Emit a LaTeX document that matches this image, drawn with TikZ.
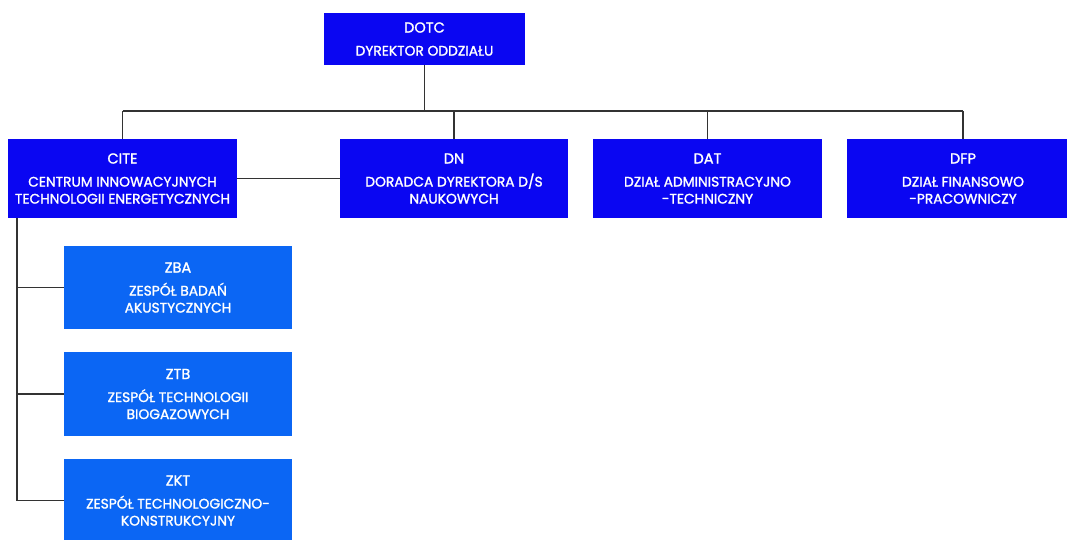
\documentclass[tikz,border=0pt]{standalone}
\usepackage{fontspec}
\setmainfont{Poppins}[UprightFeatures={FakeBold=1.5}]
\begin{document}
\begin{tikzpicture}[x=1pt,y=-1pt,
  unitbox/.style={fill=topblue, text=white, inner sep=0pt, align=center,
    font=\fontsize{13.8}{17}\selectfont},
  subbox/.style={unitbox, fill=subblue},
  link/.style={draw=linegray, line width=1.8pt}]
\definecolor{topblue}{HTML}{0A06F2}
\definecolor{subblue}{HTML}{0B66F4}
\definecolor{linegray}{HTML}{333333}
\useasboundingbox (0,0) rectangle (1067,539);
\clip (0,0) rectangle (1067,539);
\newcommand{\boxtext}[2]{\fontsize{14.5}{17}\selectfont #1\\[6pt]\fontsize{13.8}{17}\selectfont #2}

% director
\node[unitbox, minimum width=201pt, minimum height=52pt] (dotc) at (424.5,39)
  {\boxtext{DOTC}{DYREKTOR ODDZIAŁU}};

% second level
\node[unitbox, minimum width=229pt, minimum height=79pt] (cite) at (122.5,178.5)
  {\boxtext{CITE}{CENTRUM INNOWACYJNYCH\\TECHNOLOGII ENERGETYCZNYCH}};
\node[unitbox, minimum width=228pt, minimum height=79pt] (dn) at (454,178.5)
  {\boxtext{DN}{DORADCA DYREKTORA D/S\\NAUKOWYCH}};
\node[unitbox, minimum width=229pt, minimum height=79pt] (dat) at (707.5,178.5)
  {\boxtext{DAT}{DZIAŁ ADMINISTRACYJNO\\-TECHNICZNY}};
\node[unitbox, minimum width=232pt, minimum height=79pt] (dfp) at (963,178.5)
  {\boxtext{DFP}{DZIAŁ FINANSOWO\\-PRACOWNICZY}};

% teams under CITE
\node[subbox, minimum width=228pt, minimum height=83pt] (zba) at (178,287.5)
  {\boxtext{ZBA}{ZESPÓŁ BADAŃ\\AKUSTYCZNYCH}};
\node[subbox, minimum width=228pt, minimum height=84pt] (ztb) at (178,394)
  {\boxtext{ZTB}{ZESPÓŁ TECHNOLOGII\\BIOGAZOWYCH}};
\node[subbox, minimum width=228pt, minimum height=83pt] (zkt) at (178,500.5)
  {\boxtext{ZKT}{ZESPÓŁ TECHNOLOGICZNO-\\KONSTRUKCYJNY}};

% connectors
\coordinate (bus) at (0,111);
\draw[link] (dotc.south) -- (dotc.south |- bus);
\draw[link] (cite.north |- bus) -- (dfp.north |- bus);
\draw[link] (cite.north |- bus) -- (cite.north);
\draw[link] (dn.north |- bus) -- (dn.north);
\draw[link] (dat.north |- bus) -- (dat.north);
\draw[link] (dfp.north |- bus) -- (dfp.north);
\draw[link] (cite.east) -- (dn.west);

\coordinate (spine) at (17,0);
\draw[link] (cite.south -| spine) -- (zkt.west -| spine) -- (zkt.west);
\draw[link] (zba.west -| spine) -- (zba.west);
\draw[link] (ztb.west -| spine) -- (ztb.west);
\end{tikzpicture}
\end{document}
